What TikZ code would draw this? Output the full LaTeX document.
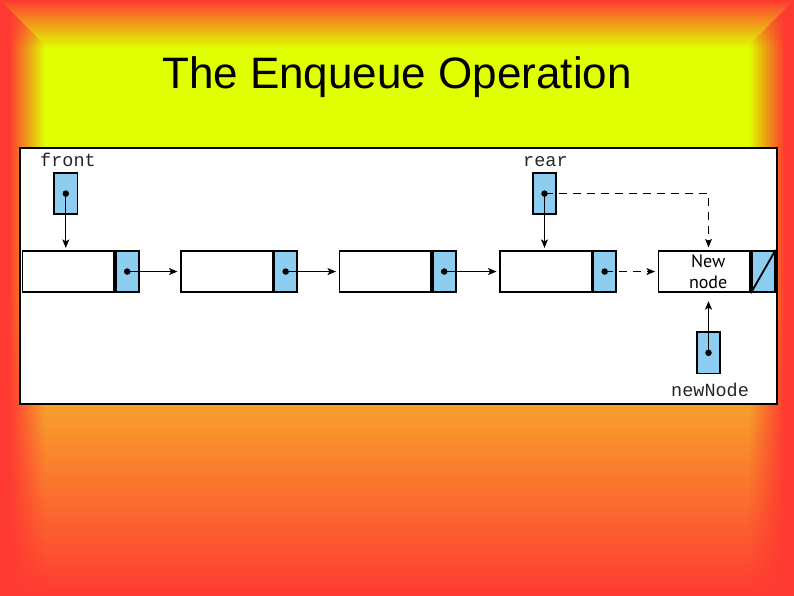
\documentclass[tikz,border=0pt]{standalone}
\usepackage{fontspec}
\setmainfont{Liberation Sans}
\newfontfamily\monof{Liberation Mono}
\newfontfamily\labf{PT Sans}
\usetikzlibrary{arrows.meta,calc}
\definecolor{bgred}{RGB}{255,58,50}
\definecolor{bgyellow}{RGB}{224,255,0}
\definecolor{bgorange}{RGB}{247,160,42}
\definecolor{cellblue}{RGB}{140,205,240}
\tikzset{
  datacell/.style={draw, line width=1.8pt, fill=white, minimum width=91.5pt, minimum height=41.5pt, inner sep=0pt, anchor=north west},
  ptrcell/.style={draw, line width=1.8pt, fill=cellblue, minimum width=23pt, minimum height=41.5pt, inner sep=0pt, anchor=north west},
  varbox/.style={draw, line width=1.8pt, fill=cellblue, minimum width=23.5pt, minimum height=41.5pt, inner sep=0pt},
  dotc/.style={circle, fill=black, inner sep=0pt, minimum size=6.5pt},
  link/.style={line width=1.1pt, -{Stealth[length=8.5pt,width=7pt,inset=2pt]}},
  dlink/.style={link, dash pattern=on 8pt off 6pt},
  monolab/.style={font=\monof\fontsize{18.5}{20}\selectfont, text=black!85, inner sep=0pt, anchor=base west},
}
\begin{document}
\begin{tikzpicture}[x=1pt,y=-1pt]
\useasboundingbox (0,0) rectangle (794,595);
% background
\fill[top color=bgred, bottom color=bgyellow] (0,0) rectangle (794,48);
\fill[bgyellow] (0,47.5) rectangle (794,300.5);
\fill[top color=bgyellow, bottom color=bgorange] (0,300) rectangle (794,405.5);
\fill[top color=bgorange, bottom color=bgred] (0,405) rectangle (794,595);
\fill[bgred] (0,0) -- (9,9) -- (9,595) -- (0,595) -- cycle;
\fill[bgred] (794,0) -- (785,9) -- (785,595) -- (794,595) -- cycle;
\foreach \k in {0,...,17} {
  \pgfmathsetmacro{\xa}{9+2*\k}
  \pgfmathsetmacro{\xb}{\xa+2}
  \pgfmathsetmacro{\op}{1-(\k+0.5)/18}
  \fill[bgred, opacity=\op] (\xa,\xa) -- (\xb,\xb) -- (\xb,595) -- (\xa,595) -- cycle;
  \fill[bgred, opacity=\op] (794-\xa,\xa) -- (794-\xb,\xb) -- (794-\xb,595) -- (794-\xa,595) -- cycle;
}
% title
\node[font=\fontsize{44}{48}\selectfont, anchor=base, inner sep=0pt] (title) at (397,88) {The Enqueue Operation};
% panel
\node[draw, line width=2pt, fill=white, minimum width=757pt, minimum height=256pt, inner sep=0pt, anchor=north west] (panel) at (19,147) {};
% list nodes
\node[datacell] (d1) at (21.5,249.9) {};
\node[ptrcell] (p1) at (d1.north east) {};
\node[datacell] (d2) at (180,249.9) {};
\node[ptrcell] (p2) at (d2.north east) {};
\node[datacell] (d3) at (338.5,249.9) {};
\node[ptrcell] (p3) at (d3.north east) {};
\node[datacell] (d4) at (499,249.9) {};
\node[ptrcell] (p4) at (d4.north east) {};
\node[datacell] (d5) at (657.5,249.9) {};
\node[ptrcell] (p5) at (d5.north east) {};
\draw[line width=1.8pt] (p5.south west) -- (p5.north east);
\node[align=center, font=\labf\fontsize{18}{21}\selectfont, inner sep=0pt] (nlab) at ($(d5.center)+(4,0)$) {New\\node};
\foreach \i in {1,2,3,4} {\node[dotc] (p\i dot) at (p\i.center) {};}
% variables
\node[varbox] (front) at (65.8,193.6) {};
\node[dotc] (fdot) at (front.center) {};
\node[monolab] (frontlab) at (40,166) {front};
\node[varbox] (rear) at (544.5,193.6) {};
\node[dotc] (rdot) at (rear.center) {};
\node[monolab] (rearlab) at (523,166) {rear};
\node[varbox] (newn) at (708.5,352.8) {};
\node[dotc] (ndot) at (newn.center) {};
\node[monolab] (newlab) at (671,396.5) {newNode};
% connectors
\draw[link, shorten >=2pt] (fdot.center) -- (fdot.center |- d1.north);
\draw[link, shorten >=2pt] (rdot.center) -- (rdot.center |- d4.north);
\draw[link, shorten >=2.5pt] (p1dot.center) -- (d2.west);
\draw[link, shorten >=2.5pt] (p2dot.center) -- (d3.west);
\draw[link, shorten >=2.5pt] (p3dot.center) -- (d4.west);
\draw[dlink, shorten >=2.5pt] (p4dot.center) -- (d5.west);
\draw[dlink, shorten >=2.5pt] (rdot.center) -| (ndot.center |- d5.north);
\draw[link, shorten >=8pt] (ndot.center) -- (ndot.center |- d5.south);
\end{tikzpicture}
\end{document}
